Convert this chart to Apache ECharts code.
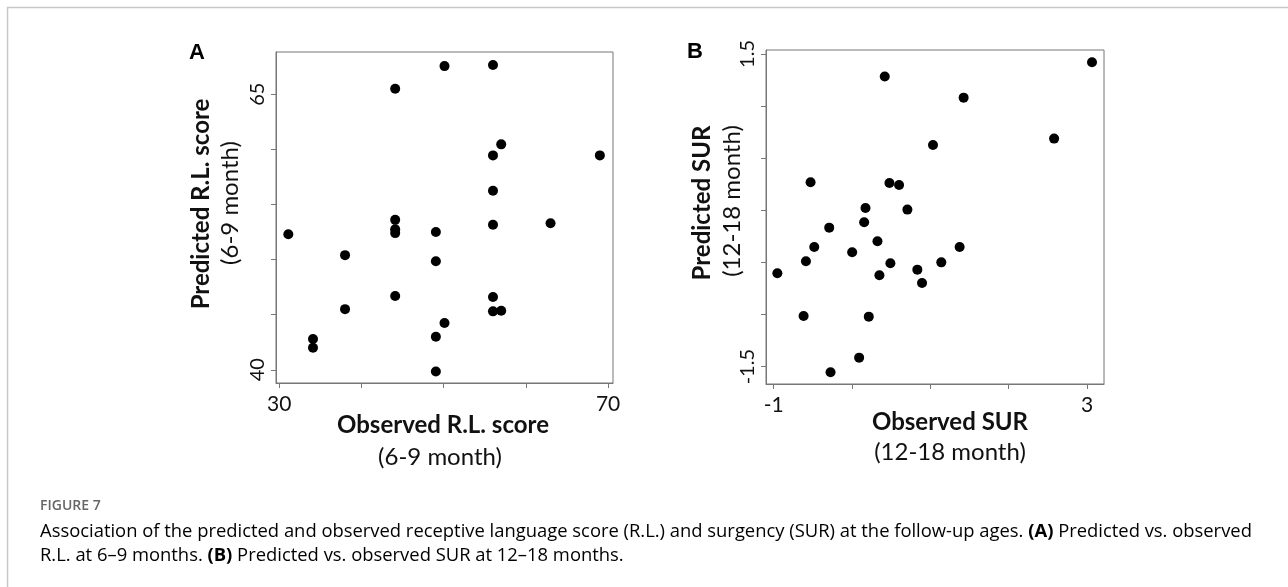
<!DOCTYPE html>
<html>
<head>
<meta charset="utf-8">
<script src="https://cdn.jsdelivr.net/npm/echarts@6/dist/echarts.min.js"></script>
<style>
html,body{margin:0;padding:0;background:#fff;}
#chart{width:1288px;height:587px;}
</style>
</head>
<body>
<div id="chart"></div>
<script>
// Panel A: observed vs predicted receptive language score (6-9 month)
const obsRL  = [31.1,34.1,34.1,38.0,38.0,44.1,44.1,44.1,44.1,44.1,49.05,49.05,49.05,49.05,50.1,50.1,56.0,56.0,56.0,56.0,56.0,56.0,57.0,57.0,63.0,69.0];
const predRL = [52.3,42.8,42.0,50.4,45.5,65.5,53.6,52.75,52.4,46.7,52.5,49.85,43.0,39.85,67.55,44.25,67.65,59.45,56.25,53.15,46.6,45.3,60.45,45.35,53.3,59.45];
// Panel B: observed vs predicted surgency (12-18 month)
const obsSUR  = [-0.953,-0.618,-0.588,-0.529,-0.482,-0.291,-0.274,0.002,0.091,0.155,0.172,0.214,0.325,0.350,0.418,0.478,0.490,0.601,0.707,0.834,0.894,1.034,1.140,1.374,1.425,2.580,3.064];
const predSUR = [-0.604,-1.014,-0.489,0.269,-0.352,-0.166,-1.554,-0.403,-1.413,-0.115,0.023,-1.020,-0.297,-0.623,1.283,0.262,-0.508,0.243,0.007,-0.569,-0.697,0.627,-0.499,-0.352,1.081,0.688,1.420];

// tick positions and labelled ticks
const xTicksA = [30,40,50,60,70], xLabelsA = [30,70];
const yTicksA = [40,45,50,55,60,65], yLabelsA = [40,65];
const xTicksB = [-1,0,1,2,3], xLabelsB = [-1,3];
const yTicksB = [-1.5,-1,-0.5,0,0.5,1,1.5], yLabelsB = [-1.5,1.5];

const panelLetters = ['A','B'];
const xTitles = ['Observed R.L. score','Observed SUR'];
const yTitles = ['Predicted R.L. score','Predicted SUR'];
const subTitles = ['(6-9 month)','(12-18 month)'];
const captionHead = 'FIGURE 7';

const FONT = 'Lato, "Open Sans", sans-serif';
const CAPFONT = '"Open Sans", "DejaVu Sans", sans-serif';
const chart = echarts.init(document.getElementById('chart'), null, {renderer:'canvas'});

function xAxisDef(gi, min, max, ticks, labels){
  return {
    gridIndex: gi, type:'value', min:min, max:max,
    axisLine:{show:true, onZero:false, lineStyle:{color:'#777', width:1}},
    axisTick:{show:true, inside:false, length:5, customValues:ticks, lineStyle:{color:'#777'}},
    axisLabel:{show:true, customValues:labels, margin:11, color:'#111', fontSize:21, fontFamily:FONT,
      formatter: v => String(v)},
    splitLine:{show:false}
  };
}
function yAxisDef(gi, min, max, ticks, labels){
  return {
    gridIndex: gi, type:'value', min:min, max:max,
    axisLine:{show:true, onZero:false, lineStyle:{color:'#777', width:1}},
    axisTick:{show:true, inside:false, length:5, customValues:ticks, lineStyle:{color:'#777'}},
    axisLabel:{show:true, customValues:labels, rotate:90, margin:8, color:'#111', fontSize:20, fontFamily:FONT,
      formatter: v => String(v)},
    splitLine:{show:false}
  };
}

const grids = [
  {left:276, top:52, width:337, height:331},
  {left:766, top:50, width:338, height:334}
];

const titleStyleB = {fontFamily:FONT, fontWeight:'bold', fontSize:24, fill:'#111'};
const titleStyleR = {fontFamily:FONT, fontWeight:'normal', fontSize:24, fill:'#111'};
const capN = {fontFamily:CAPFONT, fontSize:18.4, color:'#555'};
const capB = {fontFamily:CAPFONT, fontSize:18.4, fontWeight:'bold', color:'#555'};
const letterStyle = {fontFamily:'"Liberation Sans", Arial, sans-serif', fontWeight:'bold', fontSize:22, fill:'#000', align:'center', verticalAlign:'middle'};

const option = {
  backgroundColor:'#fff',
  animation:false,
  grid: grids.map(g => Object.assign({show:true, borderColor:'#777', borderWidth:1, backgroundColor:'transparent'}, g)),
  xAxis:[ xAxisDef(0,29.6,70.6,xTicksA,xLabelsA), xAxisDef(1,-1.098,3.217,xTicksB,xLabelsB) ],
  yAxis:[ yAxisDef(0,38.8,68.83,yTicksA,yLabelsA), yAxisDef(1,-1.666,1.538,yTicksB,yLabelsB) ],
  series:[
    {type:'scatter', xAxisIndex:0, yAxisIndex:0, symbol:'circle', symbolSize:10,
     itemStyle:{color:'#000', opacity:1}, data: obsRL.map((x,i)=>[x,predRL[i]])},
    {type:'scatter', xAxisIndex:1, yAxisIndex:1, symbol:'circle', symbolSize:10,
     itemStyle:{color:'#000', opacity:1}, data: obsSUR.map((x,i)=>[x,predSUR[i]])}
  ],
  graphic:[
    // outer frame
    {type:'rect', silent:true, shape:{x:7.5, y:7.5, width:1400, height:700},
     style:{fill:'none', stroke:'#c8c8c8', lineWidth:1.5}},
    // panel letters
    {type:'text', x:197, y:53, style:Object.assign({text:panelLetters[0]}, letterStyle)},
    {type:'text', x:695, y:52, style:Object.assign({text:panelLetters[1]}, letterStyle)},
    // x titles
    {type:'text', x:443, y:425, style:Object.assign({text:xTitles[0], align:'center', verticalAlign:'middle'}, titleStyleB)},
    {type:'text', x:440, y:457, style:Object.assign({text:subTitles[0], align:'center', verticalAlign:'middle'}, titleStyleR)},
    {type:'text', x:950, y:422, style:Object.assign({text:xTitles[1], align:'center', verticalAlign:'middle'}, titleStyleB)},
    {type:'text', x:950, y:452, style:Object.assign({text:subTitles[1], align:'center', verticalAlign:'middle'}, titleStyleR)},
    // y titles (rotated)
    {type:'text', x:201, y:204, rotation:Math.PI/2, style:Object.assign({text:yTitles[0], align:'center', verticalAlign:'middle'}, titleStyleB)},
    {type:'text', x:230, y:203, rotation:Math.PI/2, style:Object.assign({text:subTitles[0], align:'center', verticalAlign:'middle'}, titleStyleR)},
    {type:'text', x:702, y:203, rotation:Math.PI/2, style:Object.assign({text:yTitles[1], align:'center', verticalAlign:'middle'}, titleStyleB)},
    {type:'text', x:732, y:201, rotation:Math.PI/2, style:Object.assign({text:subTitles[1], align:'center', verticalAlign:'middle'}, titleStyleR)},
    // caption
    {type:'text', x:40, y:506, style:{text:captionHead, fontFamily:CAPFONT, fontWeight:600, fontSize:14, fill:'#666', verticalAlign:'middle'}},
    {type:'text', x:40, y:532, style:{
      text:'{n|Association of the predicted and observed receptive language score (R.L.) and surgency (SUR) at the follow-up ages. }{b|(A)}{n| Predicted vs. observed}',
      verticalAlign:'middle', rich:{n:capN, b:capB}}},
    {type:'text', x:40, y:556, style:{
      text:'{n|R.L. at 6\u20139 months. }{b|(B)}{n| Predicted vs. observed SUR at 12\u201318 months.}',
      verticalAlign:'middle', rich:{n:capN, b:capB}}}
  ]
};
chart.setOption(option);
</script>
</body>
</html>
